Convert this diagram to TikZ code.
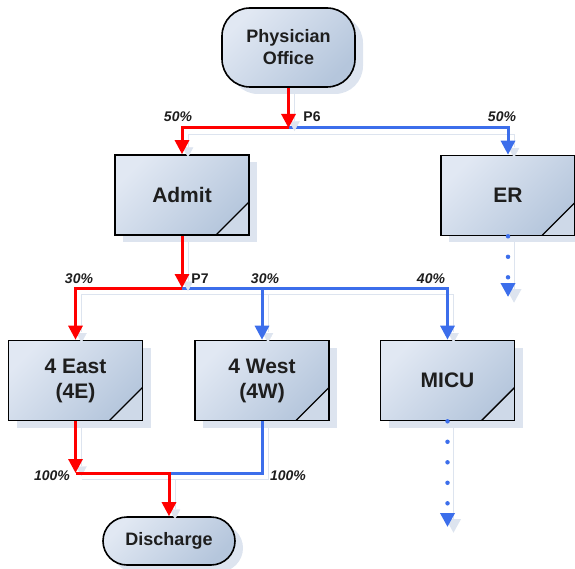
\documentclass[tikz,border=0pt]{standalone}
\usepackage{fontspec}
\setmainfont{Liberation Sans}
\usetikzlibrary{arrows.meta,shadows}

\definecolor{boxlight}{HTML}{E1E8F3}
\definecolor{boxdark}{HTML}{B5C6DC}
\definecolor{flowred}{HTML}{FF0000}
\definecolor{flowblue}{HTML}{3C6EEB}
\definecolor{shadowc}{HTML}{DDE4EF}
\definecolor{textc}{HTML}{1E1E1E}

\begin{document}
\begin{tikzpicture}[x=1pt, y=-1pt,
  base/.style={draw=black, line width=1.6pt, align=center, text=textc,
    top color=boxlight, bottom color=boxdark, shading angle=45,
    drop shadow={shadow xshift=8pt, shadow yshift=-7pt, fill=shadowc, opacity=1}},
  unit/.style={base, minimum width=134pt, minimum height=80pt,
    font=\fontsize{21}{25}\selectfont\bfseries,
    path picture={
      \fill[white, opacity=0.35] ([xshift=-33pt]path picture bounding box.south east)
        -- (path picture bounding box.south east)
        -- ([yshift=33pt]path picture bounding box.south east) -- cycle;
      \draw[line width=1.4pt] ([xshift=-33pt]path picture bounding box.south east)
        -- ([yshift=33pt]path picture bounding box.south east);}},
  terminal/.style={base, font=\fontsize{18}{22}\selectfont\bfseries},
  pct/.style={font=\fontsize{14}{16}\selectfont\bfseries\itshape, text=textc, inner sep=0pt},
  pnt/.style={font=\fontsize{14}{16}\selectfont\bfseries, text=textc, inner sep=0pt},
  flow/.style={line width=3pt, -{Triangle[width=14pt,length=14pt]},
    preaction={draw=shadowc, transform canvas={shift={(6pt,-6pt)}}}},
  redflow/.style={flow, draw=flowred},
  blueflow/.style={flow, draw=flowblue},
  dotflow/.style={blueflow, line width=4.5pt, line cap=round, dash pattern=on 0pt off 20.5pt}
]
\useasboundingbox (0,0) rectangle (575,569);

% shapes
\node[terminal, minimum width=133pt, minimum height=79pt, rounded corners=28pt] (office) at (288.5,47.5) {Physician\\Office};
\node[unit] (admit) at (182,195) {Admit};
\node[unit] (er) at (508,195.5) {ER};
\node[unit] (east) at (75.5,380.5) {4 East\\(4E)};
\node[unit] (west) at (262,380.5) {4 West\\(4W)};
\node[unit] (micu) at (447.5,380.5) {MICU};
\node[terminal, minimum width=132pt, minimum height=48pt, rounded corners=24pt] (discharge) at (169,541) {Discharge};

% junctions
\coordinate (p6) at (288.5,128);
\coordinate (p7) at (182,288);
\coordinate (mrg) at (169,473);
\coordinate (erend) at (508,297);
\coordinate (micuend) at (447.5,527);

% connectors
\draw[blueflow] (p6) -| (er.north);
\draw[redflow] (office.south) -- (p6);
\draw[redflow] (p6) -| (admit.north);
\draw[dotflow] (er.south) -- (erend);

\draw[blueflow] (p7) -| (micu.north);
\draw[blueflow] (p7) -| (west.north);
\draw[redflow] (admit.south) -- (p7);
\draw[redflow] (p7) -| (east.north);
\draw[dotflow] (micu.south) -- (micuend);

\draw[blueflow, -] (west.south) |- (mrg);
\draw[redflow] (east.south) -- (east.south |- mrg);
\draw[redflow] (east.south |- mrg) -- (mrg) -- (discharge.north);

% labels
\node[pct] (l50a) at (178,117) {50\%};
\node[pnt] (lp6) at (312,117) {P6};
\node[pct] (l50b) at (502,117) {50\%};
\node[pct] (l30a) at (79,279) {30\%};
\node[pnt] (lp7) at (200,279) {P7};
\node[pct] (l30b) at (265,279) {30\%};
\node[pct] (l40) at (431,279) {40\%};
\node[pct] (l100a) at (52,476) {100\%};
\node[pct] (l100b) at (288,476) {100\%};

\end{tikzpicture}
\end{document}
